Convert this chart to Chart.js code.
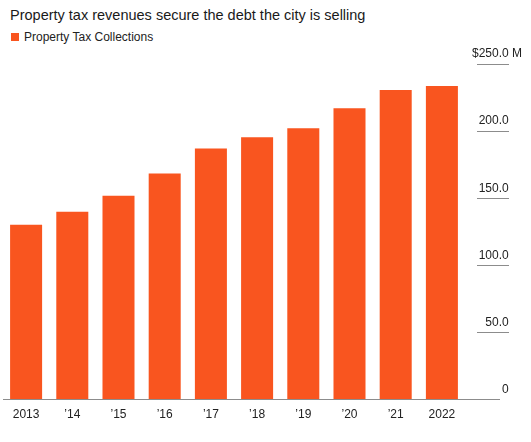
<!DOCTYPE html>
<html>
<head>
<meta charset="utf-8">
<script src="https://cdn.jsdelivr.net/npm/chart.js@4"></script>
<style>
  body { margin: 0; background: #fff; font-family: "Liberation Sans", Arial, sans-serif; }
  #wrap { position: relative; width: 531px; height: 442px; overflow: hidden; }
  #chartBox { position: absolute; left: 0; top: 0; width: 531px; height: 442px; }
  .subtitle { position: absolute; left: 10px; top: 6px; font-size: 14.5px; line-height: 18px; color: #1a1a1a; white-space: nowrap; }
  .legend { position: absolute; left: 11px; top: 30px; font-size: 12px; line-height: 14px; color: #222; white-space: nowrap; }
  .legend i { display: inline-block; width: 8px; height: 8px; margin-right: 5px; vertical-align: 0px; }
</style>
</head>
<body>
<div id="wrap">
  <div class="subtitle">Property tax revenues secure the debt the city is selling</div>
  <div class="legend" id="legend"></div>
  <div id="chartBox"><canvas id="myBarChart"></canvas></div>
</div>
<script>
//---x-axis
var years = [ '2013', '\u201914', '\u201915', '\u201916', '\u201917', '\u201918', '\u201919', '\u201920', '\u201921', '2022' ]

//---y-axis ($ millions)
var yTicks = [ 0, 50, 100, 150, 200, 250 ]

//---data
var seriesName = 'Property Tax Collections'
var collections = [ 130.2, 139.9, 151.8, 168.4, 187.1, 195.5, 202.2, 217.0, 230.7, 233.6 ]

var barColor = '#f9551f';
var fontFamily = '"Liberation Sans", Arial, sans-serif';
var yMax = yTicks[yTicks.length - 1];

// legend in html, taken from the series name
document.getElementById('legend').innerHTML =
  '<i style="background:' + barColor + '"></i>' + seriesName;

// labels are right aligned on the axis edge; pad the plain numbers so the
// " M" of the top label hangs out past them
var NBSP = '\u00a0';
var mctx = document.createElement('canvas').getContext('2d');
mctx.font = '12px ' + fontFamily;
var suffix = NBSP + 'M';
var pad = NBSP.repeat(Math.round(mctx.measureText(suffix).width / mctx.measureText(NBSP).width));

function yLabel(v) {
  if (v === yMax) return '$' + v.toFixed(1) + suffix;
  if (v === 0) return '0' + pad;
  return v.toFixed(1) + pad;
}

var ctxBar = document.getElementById('myBarChart');

var dataBar = {
  labels: years,
  datasets: [{
    label: seriesName,
    backgroundColor: barColor,
    borderWidth: 0,
    data: collections,
    barPercentage: 0.693,
    categoryPercentage: 1.0
  }]
};

var optionsBar = {
  responsive: true,
  maintainAspectRatio: false,
  animation: false,
  layout: { padding: { left: 3, right: 9, top: 64, bottom: 20 } },
  plugins: {
    legend: { display: false },
    tooltip: { enabled: false }
  },
  scales: {
    x: {
      grid: { display: false },
      border: { display: true, color: '#8c8c8c', width: 1 },
      ticks: {
        color: '#222',
        font: { family: fontFamily, size: 12 },
        padding: 0,
        autoSkip: false,
        maxRotation: 0
      }
    },
    y: {
      position: 'right',
      min: yTicks[0],
      max: yMax,
      afterBuildTicks: function (scale) {
        scale.ticks = yTicks.map(function (v) { return { value: v }; });
      },
      afterFit: function (scale) {
        scale.width = 57;
      },
      border: { display: false },
      grid: {
        drawOnChartArea: false,
        drawTicks: true,
        tickLength: 44,
        tickWidth: 1,
        tickColor: '#8c8c8c',
        tickBorderDash: function (c) {
          return c.tick && c.tick.value === 0 ? [35, 200] : [0, 12, 32, 200];
        }
      },
      ticks: {
        color: '#222',
        font: { family: fontFamily, size: 12 },
        crossAlign: 'far',
        padding: -30,
        labelOffset: -10,
        callback: function (v) { return yLabel(v); }
      }
    }
  }
};

var myBarChart = new Chart(ctxBar, {
  type: 'bar',
  options: optionsBar,
  data: dataBar
});
</script>
</body>
</html>
